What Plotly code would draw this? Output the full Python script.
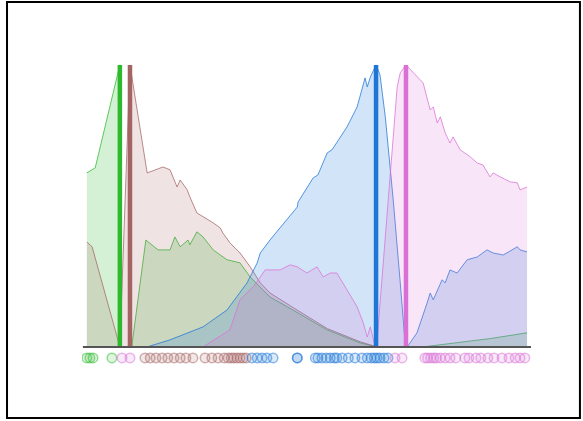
#lib visualization data
import plotly.graph_objects as go
# ---------------------------------------------------------------------------

# density curves (x position, height)
green_x = [0.1, 2.0, 7.6, 7.9, 10.3, 13.5, 16.3, 19.0, 20.1, 21.3, 23.1, 23.5, 25.1, 26.5, 28.8, 31.95,
           34.9, 37.2, 40.1, 41.7, 46.9, 54.7, 62.2, 66.0, 76.5, 85.0, 92.0, 100.1]
green_y = [0.617, 0.635, 1.0, 0.0, 0.0, 0.379, 0.344, 0.344, 0.390, 0.355, 0.379, 0.362, 0.408, 0.390, 0.344, 0.309,
           0.298, 0.248, 0.202, 0.177, 0.131, 0.060, 0.014, 0.0, 0.0, 0.015, 0.030, 0.050]

brown_x = [0.1, 1.3, 7.6, 9.9, 13.8, 17.4, 19.0, 20.6, 21.3, 22.9, 23.5, 25.1, 28.8, 30.4, 31.0, 32.6,
           34.9, 37.2, 39.5, 41.7, 46.9, 54.7, 62.2, 66.0, 100.1]
brown_y = [0.372, 0.355, 0.0, 1.0, 0.617, 0.638, 0.628, 0.567, 0.592, 0.557, 0.532, 0.475, 0.440, 0.422, 0.404, 0.369,
           0.333, 0.284, 0.227, 0.191, 0.140, 0.065, 0.018, 0.0, 0.0]

blue_x = [0.1, 13.8, 19.0, 26.5, 31.95, 36.5, 38.8, 39.5, 41.7, 47.9, 48.1, 51.5, 52.6, 54.7, 55.8, 59.2,
          61.5, 63.3, 63.8, 64.5, 65.8, 66.7, 67.9, 69.7, 71.3, 72.4, 72.9, 75.1, 77.4, 78.1, 78.8, 79.7,
          80.8, 81.5, 82.6, 84.2, 86.5, 88.8, 91.0, 92.4, 94.7, 97.9, 98.5, 100.1]
blue_y = [0.0, 0.0, 0.025, 0.071, 0.131, 0.227, 0.298, 0.333, 0.379, 0.496, 0.514, 0.599, 0.610, 0.688, 0.699, 0.780,
          0.851, 0.954, 0.922, 0.957, 1.0, 0.965, 0.816, 0.521, 0.227, 0.014, 0.0, 0.050, 0.156, 0.191, 0.167, 0.202,
          0.238, 0.227, 0.273, 0.262, 0.309, 0.319, 0.344, 0.333, 0.326, 0.355, 0.344, 0.337]

pink_x = [0.1, 26.5, 32.6, 34.9, 38.3, 40.6, 44.0, 46.3, 47.9, 50.1, 52.4, 53.8, 55.4, 56.9, 59.2, 61.5,
          62.9, 63.8, 64.5, 65.6, 66.0, 70.6, 71.3, 72.6, 76.5, 77.4, 78.1, 78.8, 79.7, 80.4, 81.5, 82.6,
          83.3, 84.9, 87.2, 88.8, 90.1, 91.7, 92.4, 94.0, 96.3, 97.9, 98.5, 100.1]
pink_y = [0.0, 0.0, 0.060, 0.167, 0.220, 0.273, 0.273, 0.291, 0.284, 0.262, 0.284, 0.248, 0.262, 0.262, 0.202, 0.142,
          0.085, 0.035, 0.071, 0.0, 0.014, 0.922, 0.972, 1.0, 0.936, 0.876, 0.840, 0.851, 0.794, 0.816, 0.759, 0.723,
          0.745, 0.699, 0.674, 0.652, 0.645, 0.603, 0.617, 0.603, 0.585, 0.582, 0.557, 0.567]

# peak markers
modes = {"green": 7.6, "brown": 9.9, "blue": 65.8, "pink": 72.6}

# rug observations
green_rug = [0.1, 0.8, 1.5, 5.8]
brown_rug = [13.3, 14.5, 15.8, 17.2, 18.5, 19.9, 21.3, 22.6, 24.2, 26.95, 28.5, 29.9, 31.3, 32.2, 32.9,
             33.5, 34.2, 34.9, 35.6, 36.3]
blue_rug = [37.6, 38.8, 39.9, 41.0, 42.4, 47.9, 47.9, 52.0, 52.6, 53.5, 54.5, 55.4, 56.3, 56.9, 58.1, 59.5,
            61.0, 62.6, 63.8, 64.7, 65.4, 66.0, 66.7, 67.6, 68.5]
pink_rug = [8.1, 9.9, 70.1, 71.7, 76.9, 77.5, 78.2, 78.9, 79.5, 80.4, 81.5, 82.6, 83.9, 86.0, 86.9, 88.5,
            89.6, 91.2, 92.6, 94.4, 96.0, 97.4, 98.5, 99.6]
# ---------------------------------------------------------------------------

colors = {
  "green": (44, 185, 44),
  "brown": (165, 100, 100),
  "blue": (30, 118, 215),
  "pink": (218, 112, 214),
}

def rgba(c, a):
  return "rgba(%d,%d,%d,%s)" % (c[0], c[1], c[2], a)

# func build density plot
def density_plot():

  fig = go.Figure()
  series = [
    ("green", green_x, green_y, green_rug, 0.2),
    ("brown", brown_x, brown_y, brown_rug, 0.18),
    ("blue", blue_x, blue_y, blue_rug, 0.2),
    ("pink", pink_x, pink_y, pink_rug, 0.18),
  ]

  # filled curves
  for name, xs, ys, rug, alpha in series:
    c = colors[name]
    fig.add_trace(go.Scatter(
      x=xs, y=ys, mode="lines", fill="tozeroy", fillcolor=rgba(c, alpha),
      line=dict(color=rgba(c, 0.75), width=1), hoverinfo="skip"
    ))

  # vertical lines at the peaks
  for name, xs, ys, rug, alpha in series:
    c = colors[name]
    fig.add_trace(go.Scatter(
      x=[modes[name], modes[name]], y=[0, max(ys)], mode="lines",
      line=dict(color=rgba(c, 1), width=4.5), hoverinfo="skip"
    ))

  # rug below the axis
  for name, xs, ys, rug, alpha in series:
    c = colors[name]
    fig.add_trace(go.Scatter(
      x=rug, y=[-0.039] * len(rug), mode="markers",
      marker=dict(symbol="circle", size=9.5, color=rgba(c, 0.15),
                  line=dict(color=rgba(c, 0.5), width=1.5)),
      hoverinfo="skip"
    ))

  # baseline and frame
  fig.add_shape(type="line", x0=-0.8, x1=101, y0=0, y1=0, line=dict(color="#555555", width=2))
  fig.add_shape(type="rect", xref="paper", yref="paper", x0=-0.167, x1=1.109, y0=-0.154, y1=1.183,
                line=dict(color="black", width=2))

  fig.update_layout(
    width=583, height=421, showlegend=False,
    margin=dict(l=82, r=52, t=59, b=51),
    plot_bgcolor="white", paper_bgcolor="white",
    xaxis=dict(range=[-1, 101], visible=False),
    yaxis=dict(range=[-0.082, 1.021], visible=False),
  )
  return fig
# ---------------------------------------------------------------------------

fig = density_plot()
# page has a default body margin, drop it so the figure sits at the corner
fig.write_html("out.html", config={"displayModeBar": False},
               post_script="document.body.style.margin='0';")
